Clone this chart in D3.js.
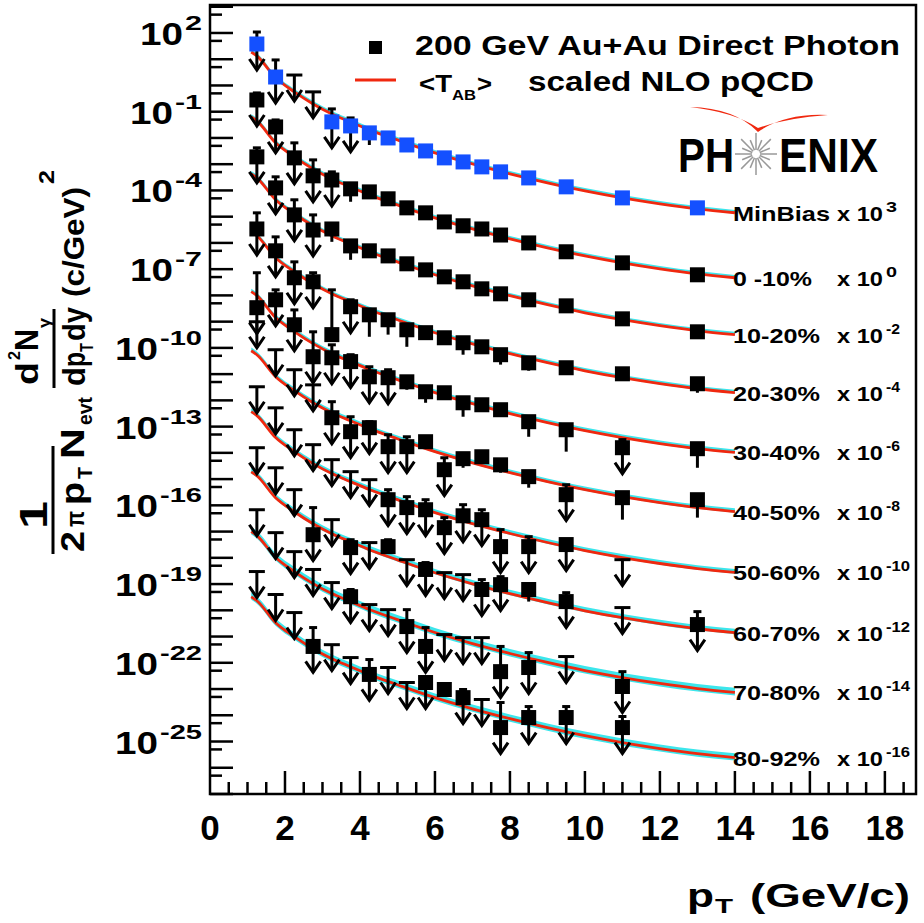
<!DOCTYPE html>
<html>
<head>
<meta charset="utf-8">
<script src="https://cdn.jsdelivr.net/npm/d3@7"></script>
<style>
  body { margin: 0; background: #fff; }
  svg { display: block; }
  text { font-family: "Liberation Sans", Arial, Helvetica, sans-serif; font-weight: bold; fill: #000; }
</style>
</head>
<body>
<svg id="chart" width="924" height="923"></svg>
<script>
// PHENIX direct photon spectra, Au+Au 200 GeV, by centrality

// pT bin centres (GeV/c)
const ptBins = [1.25, 1.75, 2.25, 2.75, 3.25, 3.75, 4.25, 4.75, 5.25, 5.75, 6.25, 6.75, 7.25, 7.75, 8.5, 9.5, 11, 13];

// rows: [value, errHigh, errLow]
// value null -> upper limit at errHigh; errLow 0 -> arrow down
const minBias = [
  [38, 109, 0], [2.1, 9.4, 0], [null, 2.5, 0], [null, 0.57, 0], [0.041, 0.128, 0], [0.0287, 0.058, 0],
  [0.0156, 0.024, 5.4e-3], [0.010, null, 5.4e-3], [5.4e-3, null, null], [3.2e-3, null, null], [1.74e-3, null, null],
  [1.22e-3, null, null], [7.9e-4, null, null], [5.1e-4, null, null], [3.0e-4, null, null], [1.37e-4, null, null],
  [5.2e-5, null, null], [2.17e-5, null, null]
];
const cent0010 = [
  [0.28, 0.52, 0], [0.0263, 0.0486, 0], [1.74e-3, 6.5e-3, 0], [3.6e-4, 1.46e-3, 0], [2.5e-4, 5.1e-4, 0],
  [1.15e-4, 1.78e-4, 3.7e-5], [8.8e-5, null, null], [4.8e-5, null, null], [2.17e-5, null, null], [1.40e-5, null, null],
  [6.3e-6, null, null], [4.5e-6, null, null], [3.4e-6, null, null], [2.0e-6, null, null], [1.0e-6, null, null],
  [4.6e-7, null, null], [1.74e-7, null, null], [6.1e-8, null, 3.3e-8]
];
const cent1020 = [
  [1.9e-3, 4.2e-3, 0], [1.25e-4, 3.3e-4, 0], [1.17e-5, 4.4e-5, 0], [3.1e-6, 1.17e-5, 0], [3.4e-6, 5.3e-6, 1.1e-6],
  [7.7e-7, 1.2e-6, 2.27e-7], [5.0e-7, null, null], [3.2e-7, null, null], [1.6e-7, null, null], [9.4e-8, null, null],
  [5.1e-8, null, null], [3.3e-8, null, null], [1.78e-8, null, null], [1.15e-8, null, null], [6.8e-9, null, null],
  [4.0e-9, null, null], [1.28e-9, null, null], [4.1e-10, null, null]
];
const cent2030 = [
  [3.4e-6, 1.40e-5, 0], [5.0e-7, 1.70e-6, 0], [4.7e-8, 1.9e-7, 0], [3.3e-8, 7.3e-8, 0], [3.2e-10, 1.63e-8, 1.7e-10],
  [3.7e-9, 6.8e-9, 0], [1.82e-9, 2.8e-9, 2.65e-10], [1.18e-9, 1.67e-9, 3.2e-10], [4.9e-10, 7.0e-10, 1.1e-10],
  [3.8e-10, null, null], [2.43e-10, null, null], [1.57e-10, null, 5.5e-11], [1.1e-10, null, null],
  [5.5e-11, null, 2.3e-11], [2.7e-11, null, 1.35e-11], [1.75e-11, null, null], [1.03e-11, null, null],
  [4.3e-12, null, 1.95e-12]
];
const cent3040 = [
  [3.4e-9, 7.3e-8, 0], [6.8e-9, 1.63e-8, 0], [7.6e-10, 2.8e-9, 0], [4.6e-11, 4.1e-10, 0], [4.2e-11, 1.31e-10, 0],
  [3.0e-11, 5.5e-11, 0], [7.9e-12, 1.91e-11, 0], [7.3e-12, 1.47e-11, 0], [5.1e-12, null, 2.54e-12],
  [2.13e-12, null, 8.1e-13], [1.95e-12, null, null], [8.1e-13, null, 2.38e-13], [6.8e-13, null, null],
  [4.4e-13, null, null], [1.54e-13, null, 4.1e-14], [7.6e-14, null, 1.11e-14], [1.57e-14, 3.2e-14, 0],
  [1.44e-14, null, 2.7e-15]
];
const cent4050 = [
  [null, 9.9e-10, 0], [null, 8.5e-11, 0], [null, 1.47e-11, 0], [null, 3.9e-12, 0], [2.18e-13, 8.9e-13, 0],
  [6.4e-14, 2.38e-13, 0], [9.1e-14, 1.54e-13, 0], [1.72e-14, 4.9e-14, 0], [1.72e-14, 4.1e-14, 0], [2.66e-14, null, null],
  [2.28e-15, 6.5e-15, 0], [6.0e-15, null, 2.7e-15], [7.1e-15, null, null], [3.5e-15, null, 1.75e-15],
  [1.24e-15, null, 4.7e-16], [2.55e-16, 6.1e-16, 0], [1.96e-16, null, 2.85e-17], [1.64e-16, null, 3.4e-17]
];
const cent5060 = [
  [null, 3.3e-12, 0], [null, 5.2e-13, 0], [null, 7.6e-14, 0], [null, 2.05e-14, 0], [null, 5.5e-15, 0],
  [null, 1.92e-15, 0], [null, 9.5e-16, 0], [1.64e-16, 3.95e-16, 0], [8.2e-17, 2.14e-16, 0], [6.8e-17, 1.64e-16, 0],
  [1.41e-17, 3.4e-17, 0], [4.0e-17, 1.06e-16, 0], [2.85e-17, 6.8e-17, 0], [2.67e-18, 1.19e-17, 0],
  [2.67e-18, 6.4e-18, 0], [3.2e-18, 4.9e-18, 0], [null, 8.5e-19, 0], null
];
const cent6070 = [
  [null, 1.57e-14, 0], [null, 2.7e-15, 0], [null, 3.95e-16, 0], [7.6e-18, 8.2e-17, 0], [null, 2.85e-17, 0],
  [2.45e-18, 4.9e-18, 0], [null, 3.8e-18, 0], [2.67e-18, 4.9e-18, null], [null, 8.5e-19, 0], [3.6e-19, 6.6e-19, 0],
  [null, 2.73e-19, 0], [null, 2.29e-19, 0], [6.2e-20, 1.48e-19, 0], [9.5e-20, 1.92e-19, 0], [6.2e-20, null, 2.15e-20],
  [2.15e-20, 4.7e-20, 0], [null, 1.27e-20, 0], [2.86e-21, 8.9e-21, 0]
];
const cent7080 = [
  [null, 6.8e-17, 0], [null, 9.1e-18, 0], [null, 1.72e-18, 0], [null, 3.6e-19, 0], [null, 1.14e-19, 0],
  [3.3e-20, 6.2e-20, 0], [null, 1.65e-20, 0], [null, 1.06e-20, 0], [2.4e-21, 1.06e-20, 0], [4.2e-22, 2.2e-21, 0],
  [null, 1.19e-21, 0], [null, 9.1e-22, 0], [null, 9.1e-22, 0], [4.6e-23, 4.2e-22, 0], [6.6e-23, 2.45e-22, 0],
  [null, 1.73e-22, 0], [1.25e-23, 4.6e-23, 0], null
];
const cent8092 = [
  [null, 3.0e-19, 0], [null, 4.0e-20, 0], [null, 8.2e-21, 0], [4.2e-22, 2.2e-21, 0], [null, 4.9e-22, 0],
  [null, 1.58e-22, 0], [3.6e-23, 1.33e-22, 0], [null, 6.6e-23, 0], [null, 1.77e-23, 0], [1.77e-23, 2.74e-23, 0],
  [9.6e-24, null, null], [4.7e-24, 9.6e-24, 0], [null, 4.0e-24, 0], [3.4e-25, 3.06e-24, 0], [8.2e-25, 2.15e-24, 0],
  [8.2e-25, 2.15e-24, 0], [3.4e-25, 9.0e-25, 0], null
];

// NLO pQCD curve (0-10% normalisation) and per-class scale factors
const nloPt = [1.1, 1.25, 1.75, 2.25, 2.75, 3.25, 3.75, 4.25, 5, 6, 7, 8, 9, 10, 11, 12, 13, 14];
const nloCurve = [6.3e-2, 4.46e-2, 6.5e-3, 1.9e-3, 6.6e-4, 2.75e-4, 1.36e-4, 6.8e-5, 2.8e-5, 9.0e-6, 3.4e-6,
  1.43e-6, 6.5e-7, 3.2e-7, 1.74e-7, 1.03e-7, 6.6e-8, 4.7e-8];
const curveScale = [3.0e2, 1, 6.8e-3, 4.2e-5, 2.2e-7, 1.23e-9, 5.9e-12, 3.0e-14, 1.58e-16, 5.2e-19];
// relative width of the cyan uncertainty band (up, down)
const bandUp = [1.28, 1.28, 1.28, 1.28, 1.3, 1.33, 1.35, 1.4, 1.5, 1.45];
const bandDown = [1.06, 1.06, 1.06, 1.08, 1.08, 1.1, 1.12, 1.15, 1.3, 1.3];

const classNames = ['MinBias', '0 -10%', '10-20%', '20-30%', '30-40%', '40-50%', '50-60%', '60-70%', '70-80%', '80-92%'];
const classExp = ['3', '0', '-2', '-4', '-6', '-8', '-10', '-12', '-14', '-16'];
const classRows = [minBias, cent0010, cent1020, cent2030, cent3040, cent4050, cent5060, cent6070, cent7080, cent8092];

const yLabelExp = [2, -1, -4, -7, -10, -13, -16, -19, -22, -25];
const xLabelVals = [0, 2, 4, 6, 8, 10, 12, 14, 16, 18];

const svg = d3.select('#chart');
const frame = { left: 210, right: 916, top: 5, bottom: 794 };

const x = d3.scaleLinear().domain([0, 18.83]).range([frame.left, frame.right]);
const y = d3.scaleLog().domain([1e-27, 1.165e3]).range([frame.bottom, frame.top]);

const RED = '#f0280f';
const CYAN = '#3ce6ec';
const BLUE = '#1450ff';
const ARROW_LEN = 26;
const SQ = 15;

// theory bands and curves
const curveG = svg.append('g');
curveScale.forEach((s, i) => {
  const pts = nloPt.map((p, k) => ({ p, v: nloCurve[k] * s }));
  const area = d3.area()
    .x(d => x(d.p))
    .y0(d => y(d.v / bandDown[i]))
    .y1(d => y(d.v * bandUp[i]))
    .curve(d3.curveMonotoneX);
  const line = d3.line()
    .x(d => x(d.p))
    .y(d => y(d.v))
    .curve(d3.curveMonotoneX);
  curveG.append('path').attr('d', area(pts)).attr('fill', CYAN);
  curveG.append('path').attr('d', line(pts)).attr('fill', 'none').attr('stroke', RED).attr('stroke-width', 2.8);
});

// data points, error bars, upper-limit arrows
const pointG = svg.append('g').attr('stroke', '#000').attr('stroke-width', 3).attr('fill', 'none');
classRows.forEach((rows, i) => {
  rows.forEach((row, k) => {
    if (!row) return;
    const [val, hi, lo] = row;
    const px = x(ptBins[k]);
    const py = val != null ? y(val) : y(hi);
    if (hi != null) {
      const half = val == null ? 8 : 4;
      if (val != null) pointG.append('line').attr('x1', px).attr('x2', px).attr('y1', y(val)).attr('y2', y(hi));
      pointG.append('line').attr('x1', px - half).attr('x2', px + half).attr('y1', y(hi)).attr('y2', y(hi));
    }
    if (lo === 0) {
      const tip = py + ARROW_LEN;
      pointG.append('line').attr('x1', px).attr('x2', px).attr('y1', py).attr('y2', tip);
      pointG.append('polyline')
        .attr('points', `${px - 7.5},${tip - 11} ${px},${tip} ${px + 7.5},${tip - 11}`);
    } else if (lo != null) {
      pointG.append('line').attr('x1', px).attr('x2', px).attr('y1', y(val)).attr('y2', y(lo));
    }
    if (val != null) {
      svg.append('rect')
        .attr('x', px - SQ / 2).attr('y', y(val) - SQ / 2)
        .attr('width', SQ).attr('height', SQ)
        .attr('fill', i === 0 ? BLUE : '#000');
    }
  });
});

// centrality labels at the end of each curve
curveScale.forEach((s, i) => {
  const ly = y(nloCurve[nloCurve.length - 1] * s) + 8;
  svg.append('text').attr('x', 733).attr('y', ly).attr('font-size', 21)
    .attr('textLength', i === 0 ? 97 : i === 1 ? 79 : 87).attr('lengthAdjust', 'spacingAndGlyphs')
    .text(classNames[i]);
  svg.append('text').attr('x', 837).attr('y', ly).attr('font-size', 21)
    .attr('textLength', 46).attr('lengthAdjust', 'spacingAndGlyphs').text('x 10');
  svg.append('text').attr('x', 886).attr('y', ly - 9).attr('font-size', 15)
    .attr('textLength', classExp[i].length === 1 ? 11 : classExp[i].length === 2 ? 14 : 24)
    .attr('lengthAdjust', 'spacingAndGlyphs').text(classExp[i]);
});

// frame
svg.append('rect')
  .attr('x', frame.left).attr('y', frame.top)
  .attr('width', frame.right - frame.left).attr('height', frame.bottom - frame.top)
  .attr('fill', 'none').attr('stroke', '#000').attr('stroke-width', 2.5);

// y ticks: decades long, 5x10^n short
const tickG = svg.append('g').attr('stroke', '#000').attr('stroke-width', 2.5);
d3.range(-27, 4).forEach(e => {
  const v = Math.pow(10, e);
  if (v <= y.domain()[1]) {
    tickG.append('line').attr('x1', frame.left).attr('x2', frame.left + 23).attr('y1', y(v)).attr('y2', y(v));
  }
  const m = 5 * v;
  if (m <= y.domain()[1]) {
    tickG.append('line').attr('x1', frame.left).attr('x2', frame.left + 12).attr('y1', y(m)).attr('y2', y(m));
  }
});
// x ticks
d3.range(0.5, 18.6, 0.5).forEach(t => {
  const major = Math.abs(t / 2 - Math.round(t / 2)) < 1e-6;
  tickG.append('line').attr('x1', x(t)).attr('x2', x(t))
    .attr('y1', frame.bottom).attr('y2', frame.bottom - (major ? 23 : 12));
});

// y tick labels
yLabelExp.forEach(e => {
  const ty = y(Math.pow(10, e));
  const es = String(e);
  const ew = es.length === 1 ? 17 : es.length === 2 ? 27 : 42;
  svg.append('text').attr('x', 202 - ew).attr('y', ty - 3).attr('font-size', 21)
    .attr('textLength', ew).attr('lengthAdjust', 'spacingAndGlyphs').text(es);
  svg.append('text').attr('x', 202 - ew - 45).attr('y', ty + 12).attr('font-size', 32)
    .attr('textLength', 43).attr('lengthAdjust', 'spacingAndGlyphs').text('10');
});

// x tick labels
xLabelVals.forEach(v => {
  svg.append('text').attr('x', x(v)).attr('y', 840).attr('font-size', 35)
    .attr('text-anchor', 'middle').text(v);
});

// x axis title
svg.append('text').attr('x', 687).attr('y', 907).attr('font-size', 34)
  .attr('textLength', 27).attr('lengthAdjust', 'spacingAndGlyphs').text('p');
svg.append('text').attr('x', 715).attr('y', 913).attr('font-size', 21)
  .attr('textLength', 18).attr('lengthAdjust', 'spacingAndGlyphs').text('T');
svg.append('text').attr('x', 750).attr('y', 907).attr('font-size', 34)
  .attr('textLength', 160).attr('lengthAdjust', 'spacingAndGlyphs').text('(GeV/c)');

// y axis title, rotated: [text, start, baseline, size, length, weight]
const titleParts = [
  ['1', -529, 47, 38, 28, 'bold'],
  ['2', -552, 84, 33, 21, 'bold'],
  ['π', -527, 84, 26, 16, 'normal'],
  ['p', -505, 84, 33, 23, 'bold'],
  ['T', -479, 92, 20, 12, 'bold'],
  ['N', -459, 84, 33, 31, 'bold'],
  ['evt', -425, 92, 20, 28, 'bold'],
  ['d', -385, 38, 31, 23, 'bold'],
  ['2', -360, 20, 17, 9, 'bold'],
  ['N', -351, 38, 33, 22, 'bold'],
  ['γ', -328, 50, 16, 10, 'normal'],
  ['d', -386, 85, 31, 19, 'bold'],
  ['p', -367, 85, 31, 15, 'bold'],
  ['T', -352, 93, 18, 9, 'bold'],
  ['dy', -341, 85, 31, 34, 'bold'],
  ['(c/GeV)', -297, 84, 30, 110, 'bold'],
  ['2', -184, 54, 22, 14, 'bold']
];
const titleG = svg.append('g').attr('transform', 'rotate(-90)');
titleParts.forEach(([t, sx, by, fs, len, fw]) => {
  titleG.append('text').attr('x', sx).attr('y', by).attr('font-size', fs)
    .attr('font-weight', fw).attr('textLength', len).attr('lengthAdjust', 'spacingAndGlyphs').text(t);
});
titleG.append('line').attr('x1', -554).attr('x2', -446).attr('y1', 53).attr('y2', 53)
  .attr('stroke', '#000').attr('stroke-width', 3);
titleG.append('line').attr('x1', -388).attr('x2', -309).attr('y1', 54).attr('y2', 54)
  .attr('stroke', '#000').attr('stroke-width', 3);

// legend
svg.append('rect').attr('x', 369).attr('y', 41).attr('width', 13).attr('height', 13).attr('fill', '#000');
svg.append('text').attr('x', 415).attr('y', 55).attr('font-size', 27)
  .attr('textLength', 485).attr('lengthAdjust', 'spacingAndGlyphs').text('200 GeV Au+Au Direct Photon');
svg.append('line').attr('x1', 355).attr('x2', 396).attr('y1', 80).attr('y2', 80)
  .attr('stroke', RED).attr('stroke-width', 3);
svg.append('text').attr('x', 419).attr('y', 92).attr('font-size', 23).attr('font-weight', 'normal')
  .attr('textLength', 33).attr('lengthAdjust', 'spacingAndGlyphs').text('<T');
svg.append('text').attr('x', 452).attr('y', 100).attr('font-size', 15).attr('font-weight', 'normal')
  .attr('textLength', 24).attr('lengthAdjust', 'spacingAndGlyphs').text('AB');
svg.append('text').attr('x', 477).attr('y', 92).attr('font-size', 23).attr('font-weight', 'normal')
  .attr('textLength', 15).attr('lengthAdjust', 'spacingAndGlyphs').text('>');
svg.append('text').attr('x', 528).attr('y', 91).attr('font-size', 27)
  .attr('textLength', 286).attr('lengthAdjust', 'spacingAndGlyphs').text('scaled NLO pQCD');

// PHENIX logo
const logo = svg.append('g');
logo.append('path')
  .attr('d', 'M690,107 Q735,108 758,132 Q785,113 828,115 Q786,118 758,128 Q734,112 690,107 Z')
  .attr('fill', RED);
logo.append('text').attr('x', 678).attr('y', 172).attr('font-size', 48).attr('font-weight', 'normal')
  .attr('textLength', 56).attr('lengthAdjust', 'spacingAndGlyphs').text('PH');
logo.append('text').attr('x', 779).attr('y', 172).attr('font-size', 48).attr('font-weight', 'normal')
  .attr('textLength', 99).attr('lengthAdjust', 'spacingAndGlyphs').text('ENIX');
d3.range(16).forEach(k => {
  const a = k * Math.PI / 8;
  const r = k % 2 ? 15 : 21;
  logo.append('line')
    .attr('x1', 756 + 4 * Math.cos(a)).attr('y1', 154 + 4 * Math.sin(a))
    .attr('x2', 756 + r * Math.cos(a)).attr('y2', 154 + r * Math.sin(a))
    .attr('stroke', '#999').attr('stroke-width', 1.5);
});
</script>
</body>
</html>
